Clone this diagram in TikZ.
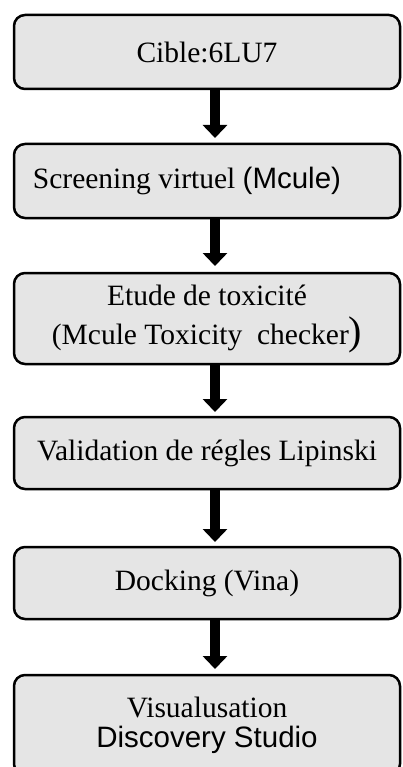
\documentclass[tikz,border=0pt]{standalone}
\usepackage{fontspec}
\setmainfont{Liberation Serif}
\newfontfamily\arialfont{Liberation Sans}
\usetikzlibrary{positioning,arrows.meta}
\definecolor{boxgray}{HTML}{E5E5E5}
\tikzset{
  every picture/.style={
    line width=2.5pt
  },
  stepbox/.style={
    draw, fill=boxgray, rounded corners=11pt, align=center,
    minimum width=386pt, outer sep=0pt, inner sep=2pt,
    font=\fontsize{29.5}{35}\selectfont
  },
  flowarrow/.style={
    line width=9.5pt, -{Triangle[width=24pt,length=13pt]}
  }
}

\begin{document}
\begin{tikzpicture}
  \useasboundingbox (0pt,0pt) rectangle (403pt,-767pt);
  \clip (0pt,0pt) rectangle (403pt,-767pt);

  \node[stepbox, minimum height=74pt] (cible) at (207pt,-52pt) {Cible:6LU7};
  \node[stepbox, minimum height=74pt, below=55pt of cible] (screening)
  {\hspace*{-40pt}Screening virtuel {\arialfont(Mcule)}};
  \node[stepbox, minimum height=91pt, below=55pt of screening] (toxicite)
  {Etude de toxicité\\[4pt] (Mcule Toxicity\ \ checker{\fontsize{40}{40}\selectfont)}};
  \node[stepbox, minimum height=72pt, below=53pt of toxicite] (lipinski)
  {Validation de régles Lipinski};
  \node[stepbox, minimum height=72pt, below=58pt of lipinski] (docking)
  {Docking (Vina)};
  \node[stepbox, minimum height=100pt, below=56pt of docking] (visu)
  {Visualusation\\[-5pt] {\arialfont Discovery Studio}};

  \draw[flowarrow] ([xshift=8pt]cible.south) -- ([xshift=8pt,yshift=6pt]screening.north);
  \draw[flowarrow] ([xshift=8pt]screening.south) -- ([xshift=8pt,yshift=7pt]toxicite.north);
  \draw[flowarrow] ([xshift=8pt]toxicite.south) -- ([xshift=8pt,yshift=5pt]lipinski.north);
  \draw[flowarrow] ([xshift=8pt]lipinski.south) -- ([xshift=8pt,yshift=5pt]docking.north);
  \draw[flowarrow] ([xshift=8pt]docking.south) -- ([xshift=8pt,yshift=6pt]visu.north);
\end{tikzpicture}
\end{document}
